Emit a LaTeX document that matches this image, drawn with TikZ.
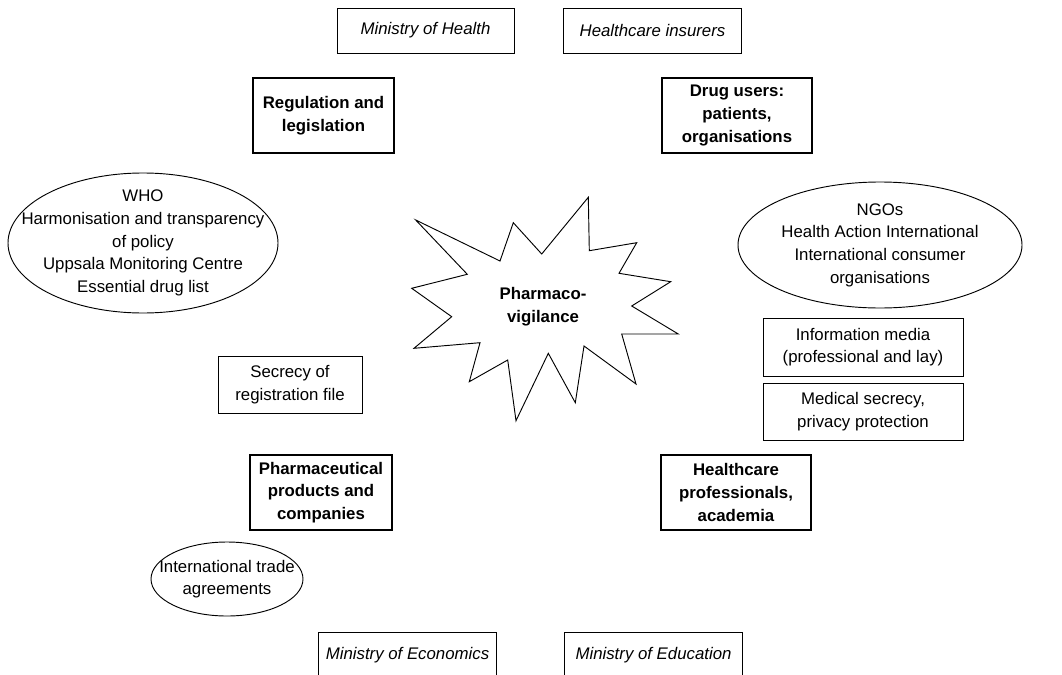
\documentclass[tikz,border=0pt]{standalone}
\usepackage{fontspec}
\setmainfont{Liberation Sans}

\begin{document}
\begin{tikzpicture}[x=0.75pt, y=-0.75pt,
    every node/.style={font=\fontsize{12.6}{17}\selectfont, align=center, inner sep=0pt},
    plainbox/.style={draw, line width=0.7pt, minimum height=#1},
    plainbox/.default=33.75pt,
    minbox/.style={plainbox, minimum width=134pt, font=\fontsize{12.6}{17}\selectfont\itshape},
    keybox/.style={draw, line width=1.6pt, minimum height=56pt, font=\fontsize{12.6}{17}\selectfont\bfseries},
    bubble/.style={draw, line width=0.7pt}]

    \useasboundingbox (0,0) rectangle (1062,674);
    \clip (0,0) rectangle (1062,674);

    % ministries along top and bottom edge
    \node[minbox, minimum width=132.75pt] (moh) at (425.5,30.5) {Ministry of Health};
    \node[minbox] (ins) at (652.5,30.5) {Healthcare insurers};
    \node[minbox] (moe) at (407.5,655) {Ministry of Economics};
    \node[minbox] (edu) at (653.5,655) {Ministry of Education};

    % the four main actors
    \node[keybox, minimum width=105.75pt] (reg) at (323.5,115.5) {Regulation and\\legislation};
    \node[keybox, minimum width=112.5pt] (usr) at (737,115.5) {Drug users:\\patients,\\organisations};
    \node[keybox, minimum width=106.5pt] (pha) at (321,492.5) {Pharmaceutical\\products and\\companies};
    \node[keybox, minimum width=112.5pt] (hcp) at (736,492.5) {Healthcare\\professionals,\\academia};

    % side boxes
    \node[plainbox=42.75pt, minimum width=108pt] (sec) at (290,384.5) {Secrecy of\\registration file};
    \node[plainbox=43.5pt, minimum width=150pt] (med) at (863,347) {Information media\\(professional and lay)};
    \node[plainbox=42.75pt, minimum width=150pt] (prv) at (863,411.5) {Medical secrecy,\\privacy protection};

    % ellipses, drawn round their text
    \node (who) at (143,243) {WHO\\Harmonisation and transparency\\of policy\\Uppsala Monitoring Centre\\Essential drug list};
    \draw[bubble] (who.center) ellipse [x radius=101.25pt, y radius=52.5pt];
    \node (ngo) at (880,245) {NGOs\\Health Action International\\International consumer\\organisations};
    \draw[bubble] (ngo.center) ellipse [x radius=106.5pt, y radius=47.25pt];
    \node (trd) at (227,579) {International trade\\agreements};
    \draw[bubble] (trd.center) ellipse [x radius=57pt, y radius=27.75pt];

    % central star
    \draw[line width=0.7pt] (415.7,220) -- (500,261) -- (513.3,222.7) -- (541.7,254) -- (588.3,197.3)
        -- (589.3,250.7) -- (636.7,242.7) -- (619,273.3) -- (670.7,281.7) -- (631.7,306)
        -- (678.3,334) -- (621.7,334) -- (636,384) -- (584,346) -- (575.3,402.7)
        -- (548.3,353.3) -- (516,420.7) -- (507.7,360) -- (469.3,381.7) -- (480,342.7)
        -- (414,348.3) -- (451.7,316.7) -- (411.7,288.3) -- (467.3,274.3) -- cycle;
    \node[font=\fontsize{12.6}{17}\selectfont\bfseries] (pv) at (543,307) {Pharmaco-\\vigilance};
\end{tikzpicture}
\end{document}
